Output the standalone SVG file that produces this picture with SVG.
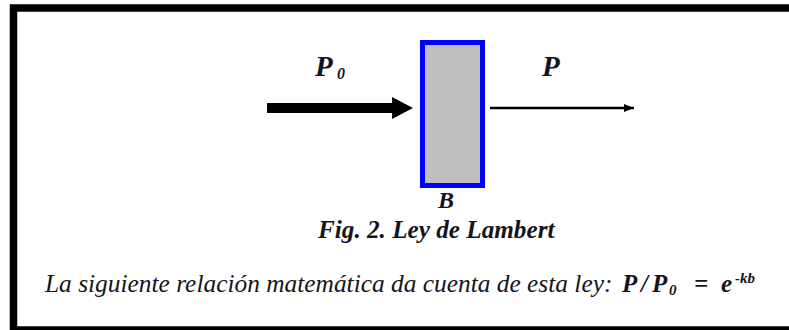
<svg xmlns="http://www.w3.org/2000/svg" width="789" height="330" viewBox="0 0 789 330">
<defs>
<style>
.t{font-style:italic;fill:#141420}
.b{font-weight:bold}
</style>
<marker id="ah" markerWidth="10" markerHeight="8" refX="10" refY="4" orient="auto" markerUnits="userSpaceOnUse">
<path d="M0,0 L10,4 L0,8 Z" fill="#000"/>
</marker>
</defs>
<rect x="0" y="0" width="789" height="330" fill="#fff"/>
<g id="frame">
<rect x="13.5" y="8" width="790" height="322" fill="none" stroke="#000" stroke-width="7.5"/>
</g>
<g id="sample">
<rect x="422.5" y="42.5" width="60" height="143" fill="#bebebe" stroke="#0000ff" stroke-width="5"/>
<text class="t b" font-family="Liberation Serif" x="438" y="208" font-size="24">B</text>
</g>
<g id="connectors">
<path d="M267,108 H394" stroke="#000" stroke-width="10" fill="none"/>
<path d="M392,97 L413,108 L392,119 Z" fill="#000"/>
<path d="M490,108 H634" stroke="#000" stroke-width="2.5" fill="none" marker-end="url(#ah)"/>
</g>
<g id="labels">
<text class="t b" font-family="Liberation Serif" x="315" y="76" font-size="29">P<tspan x="337" y="79" font-size="16">0</tspan></text>
<text class="t b" font-family="Liberation Serif" x="542" y="76" font-size="29">P</text>
<text class="t b" font-family="Liberation Serif" x="318" y="238" font-size="25.2">Fig. 2. Ley de Lambert</text>
<text class="t" font-family="Liberation Serif" x="45" y="292" font-size="25.4">La siguiente relación matemática da cuenta de esta ley:</text>
<text class="t b" font-family="Liberation Serif" y="292" font-size="25"><tspan x="622">P</tspan><tspan x="641">/</tspan><tspan x="652">P</tspan><tspan x="669" y="295" font-size="15">0</tspan><tspan x="694" y="292">=</tspan><tspan x="721">e</tspan><tspan x="735" y="283" font-size="15">-kb</tspan></text>
</g>
</svg>
